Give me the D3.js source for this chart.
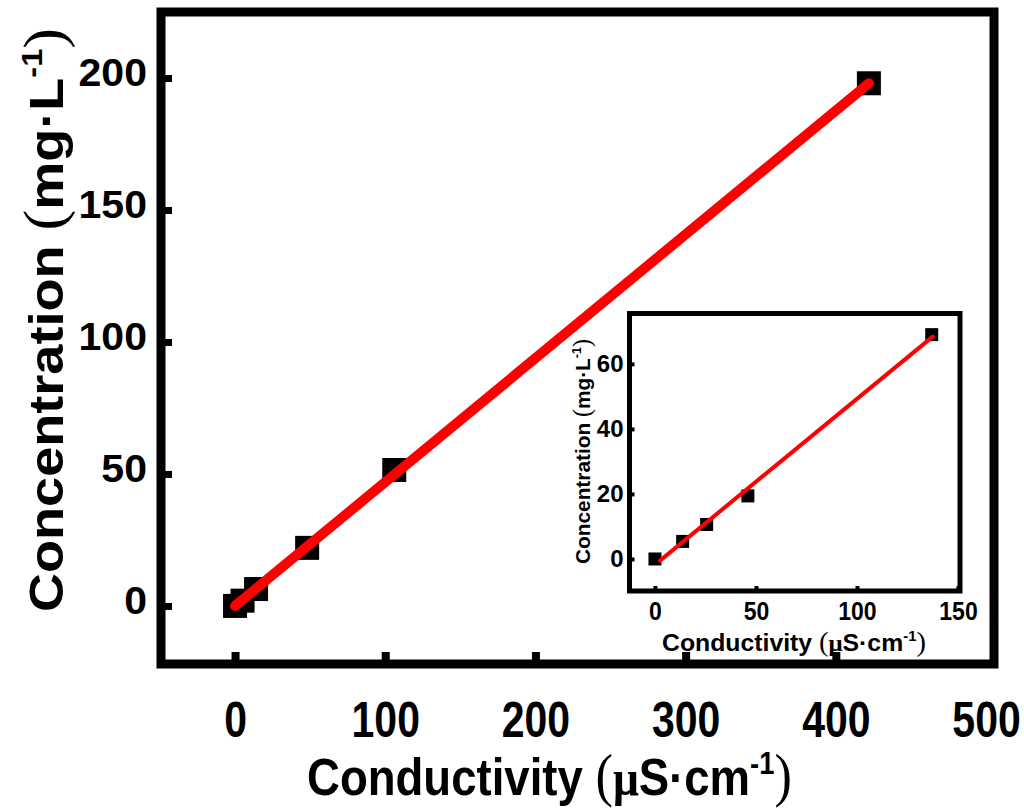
<!DOCTYPE html>
<html>
<head>
<meta charset="utf-8">
<script src="https://cdn.jsdelivr.net/npm/d3@7"></script>
<style>
  html, body { margin: 0; padding: 0; background: #fff; }
  svg { display: block; }
  text { font-family: "Liberation Sans", Arial, sans-serif; font-weight: bold; fill: #000; }
</style>
</head>
<body>
<svg id="chart" width="1024" height="810"></svg>
<script>
// ---- Main plot data ----
const mainX = [0, 5, 14, 48, 106, 422];        // Conductivity (µS·cm-1)
const mainY = [0, 2, 6.4, 22, 51.5, 198];      // Concentration (mg·L-1)
const mainFitX = [0, 422];
const mainFitY = [0, 198];
const mainXTicks = [0, 100, 200, 300, 400, 500];
const mainYTicks = [0, 50, 100, 150, 200];

// ---- Inset data ----
const insetX = [0, 13.7, 25.6, 46, 137];
const insetY = [0, 5.4, 10.6, 19.4, 69];
const insetFitX = [2.5, 137.5];
const insetFitY = [-0.5, 68.4];
const insetXTicks = [0, 50, 100, 150];
const insetYTicks = [0, 20, 40, 60];

const svg = d3.select("#chart");
const SANS = '"Liberation Sans", Arial, sans-serif';
const SERIF = '"Liberation Serif", "Times New Roman", serif';

// ================= MAIN =================
const M = { left: 161, right: 994, top: 12, bottom: 664 };
const x = d3.scaleLinear().domain([-49.3, 505.3]).range([M.left, M.right]);
const y = d3.scaleLinear().domain([-22, 225]).range([M.bottom, M.top]);

// markers
const mainPts = mainX.map((v, i) => [v, mainY[i]]);
const mS = 24;
svg.append("g").selectAll("rect").data(mainPts).join("rect")
  .attr("x", d => x(d[0]) - mS / 2).attr("y", d => y(d[1]) - mS / 2)
  .attr("width", mS).attr("height", mS).attr("fill", "#000");

// fit line
svg.append("line")
  .attr("x1", x(mainFitX[0])).attr("y1", y(mainFitY[0]))
  .attr("x2", x(mainFitX[1])).attr("y2", y(mainFitY[1]))
  .attr("stroke", "#ff0000").attr("stroke-width", 10).attr("stroke-linecap", "round");

// axes
const xAxis = d3.axisBottom(x).tickValues(mainXTicks).tickSize(-12).tickPadding(38).tickFormat(d3.format("d"));
const gx = svg.append("g").attr("transform", `translate(0,${M.bottom})`).call(xAxis);
gx.select(".domain").remove();
gx.selectAll(".tick line").attr("stroke", "#000").attr("stroke-width", 8);
gx.selectAll(".tick text").attr("font-size", 50).attr("transform", "scale(0.82,1)")
  .style("font-family", SANS).style("font-weight", "bold");
gx.selectAll(".tick line").filter(d => d === 500).remove();

const yAxis = d3.axisLeft(y).tickValues(mainYTicks).tickSize(-11).tickPadding(13).tickFormat(d3.format("d"));
const gy = svg.append("g").attr("transform", `translate(${M.left},0)`).call(yAxis);
gy.select(".domain").remove();
gy.selectAll(".tick line").attr("stroke", "#000").attr("stroke-width", 7);
gy.selectAll(".tick text").attr("font-size", 38).attr("dy", "0.21em").attr("transform", "scale(1.08,1)")
  .style("font-family", SANS).style("font-weight", "bold");

// frame
svg.append("rect")
  .attr("x", M.left).attr("y", M.top)
  .attr("width", M.right - M.left).attr("height", M.bottom - M.top)
  .attr("fill", "none").attr("stroke", "#000").attr("stroke-width", 9);

// titles
function unitTitle(g, main, unit, sup, fs) {
  const t = g.append("text").attr("font-size", fs).attr("x", 0).attr("y", 0);
  t.append("tspan").text(main + " ");
  t.append("tspan").style("font-family", SERIF).style("font-weight", "normal").attr("font-size", fs * 1.15).text("(");
  if (unit.startsWith("μ")) {
    t.append("tspan").style("font-family", SERIF).text("μ");
    t.append("tspan").text(unit.slice(1));
  } else {
    t.append("tspan").text(unit);
  }
  t.append("tspan").attr("font-size", fs * 0.6).attr("dy", -fs * 0.42).text(sup);
  t.append("tspan").attr("dy", fs * 0.42).style("font-family", SERIF).style("font-weight", "normal")
    .attr("font-size", fs * 1.15).text(")");
  return t;
}
function place(t, tx, ty, rot, targetLen) {
  const natural = t.node().getComputedTextLength();
  const s = targetLen / natural;
  t.attr("transform", `translate(${tx},${ty}) rotate(${rot}) scale(${s},1)`);
}

place(unitTitle(svg, "Conductivity", "μS·cm", "-1", 51), 307, 795, 0, 485);
place(unitTitle(svg, "Concentration", "mg·L", "-1", 49), 63, 612, -90, 584);

// ================= INSET =================
const I = { left: 629.5, right: 960, top: 313.5, bottom: 591 };
const xi = d3.scaleLinear().domain([-12.6, 151]).range([I.left, I.right]);
const yi = d3.scaleLinear().domain([-9.85, 75.5]).range([I.bottom, I.top]);

const ginset = svg.append("g");
ginset.append("rect")
  .attr("x", I.left).attr("y", I.top).attr("width", I.right - I.left).attr("height", I.bottom - I.top)
  .attr("fill", "#fff");

const insetPts = insetX.map((v, i) => [v, insetY[i]]);
const iS = 13;
ginset.append("g").selectAll("rect").data(insetPts).join("rect")
  .attr("x", d => xi(d[0]) - iS / 2).attr("y", d => yi(d[1]) - iS / 2)
  .attr("width", iS).attr("height", iS).attr("fill", "#000");

ginset.append("line")
  .attr("x1", xi(insetFitX[0])).attr("y1", yi(insetFitY[0]))
  .attr("x2", xi(insetFitX[1])).attr("y2", yi(insetFitY[1]))
  .attr("stroke", "#ff0000").attr("stroke-width", 4).attr("stroke-linecap", "round");

const xiAxis = d3.axisBottom(xi).tickValues(insetXTicks).tickSize(-5).tickPadding(11).tickFormat(d3.format("d"));
const gxi = ginset.append("g").attr("transform", `translate(0,${I.bottom})`).call(xiAxis);
gxi.select(".domain").remove();
gxi.selectAll(".tick line").attr("stroke", "#000").attr("stroke-width", 4);
gxi.selectAll(".tick text").attr("font-size", 25).attr("transform", "scale(0.92,1)")
  .style("font-family", SANS).style("font-weight", "bold");

const yiAxis = d3.axisLeft(yi).tickValues(insetYTicks).tickSize(-5).tickPadding(6).tickFormat(d3.format("d"));
const gyi = ginset.append("g").attr("transform", `translate(${I.left},0)`).call(yiAxis);
gyi.select(".domain").remove();
gyi.selectAll(".tick line").attr("stroke", "#000").attr("stroke-width", 4);
gyi.selectAll(".tick text").attr("font-size", 24).attr("dy", "0.33em")
  .style("font-family", SANS).style("font-weight", "bold");

ginset.append("rect")
  .attr("x", I.left).attr("y", I.top).attr("width", I.right - I.left).attr("height", I.bottom - I.top)
  .attr("fill", "none").attr("stroke", "#000").attr("stroke-width", 5);

place(unitTitle(ginset, "Conductivity", "μS·cm", "-1", 23), 662, 651, 0, 264);
place(unitTitle(ginset, "Concentration", "mg·L", "-1", 21), 590, 564, -90, 225);
</script>
</body>
</html>
